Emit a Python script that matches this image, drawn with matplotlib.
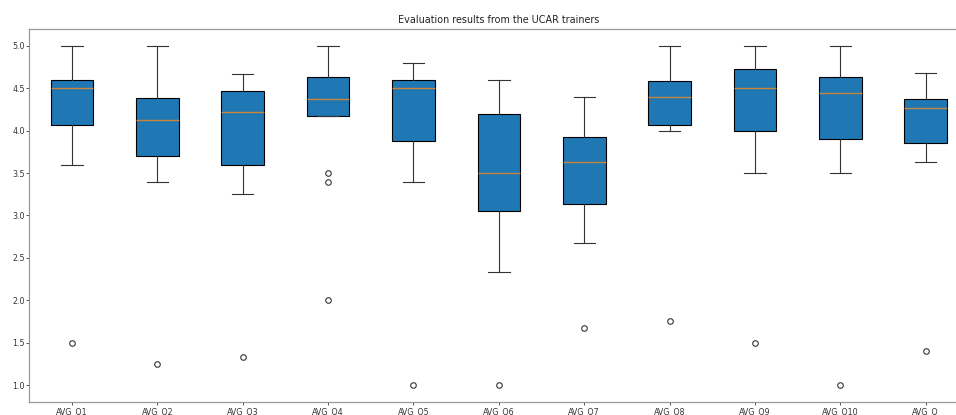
import matplotlib.pyplot as plt

# Estadisticas de cada caja
labels = ['AVG_Q1', 'AVG_Q2', 'AVG_Q3', 'AVG_Q4', 'AVG_Q5', 'AVG_Q6',
          'AVG_Q7', 'AVG_Q8', 'AVG_Q9', 'AVG_Q10', 'AVG_Q']
whis_hi = [5.0, 5.0, 4.67, 5.0, 4.8, 4.6, 4.4, 5.0, 5.0, 5.0, 4.68]
q3 = [4.6, 4.39, 4.47, 4.63, 4.6, 4.2, 3.93, 4.58, 4.73, 4.63, 4.37]
medians = [4.5, 4.13, 4.22, 4.37, 4.5, 3.5, 3.63, 4.4, 4.5, 4.45, 4.27]
q1 = [4.07, 3.7, 3.6, 4.17, 3.88, 3.05, 3.13, 4.07, 4.0, 3.9, 3.85]
whis_lo = [3.6, 3.4, 3.25, 4.17, 3.4, 2.33, 2.67, 4.0, 3.5, 3.5, 3.63]
fliers = [[1.5], [1.25], [1.33], [3.5, 3.4, 2.0], [1.0], [1.0],
          [1.67], [1.75], [1.5], [1.0], [1.4]]

stats = []
for lab, hi, a3, med, a1, lo, fl in zip(labels, whis_hi, q3, medians, q1, whis_lo, fliers):
    stats.append(dict(label=lab, whishi=hi, q3=a3, med=med, q1=a1, whislo=lo, fliers=fl))

fig = plt.figure(figsize=(9.56, 4.15), dpi=100)
ax = fig.add_axes([0.0308, 0.0313, 0.982, 0.899])

ax.bxp(stats, patch_artist=True,
       boxprops=dict(facecolor='#1f77b4', edgecolor='black', linewidth=0.8),
       medianprops=dict(color='#c8843a', linewidth=1.0),
       whiskerprops=dict(color='#333333', linewidth=0.8),
       capprops=dict(color='#333333', linewidth=0.8),
       flierprops=dict(marker='o', markerfacecolor='none', markeredgecolor='#333333',
                       markersize=4, markeredgewidth=0.8))

ax.set_title('Evaluation results from the UCAR trainers', fontsize=6.9, pad=4, color='#222222')
ax.tick_params(labelsize=5.7, length=2, width=0.6, pad=1.5, colors='#333333')
for s in ax.spines.values():
    s.set_color('#999999')
    s.set_linewidth(0.9)

plt.savefig('out.png', dpi=100)
